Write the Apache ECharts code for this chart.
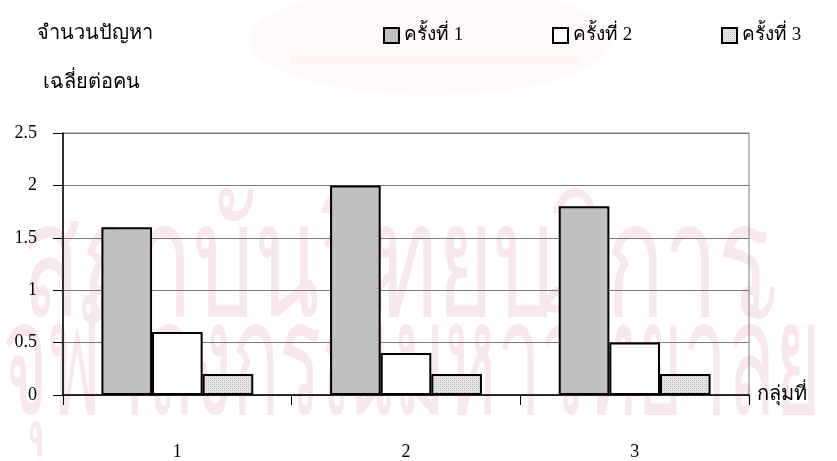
<!DOCTYPE html>
<html>
<head>
<meta charset="utf-8">
<script src="https://cdn.jsdelivr.net/npm/echarts@6/dist/echarts.min.js"></script>
<style>
  html, body { margin: 0; padding: 0; background: #ffffff; }
  #chart { width: 837px; height: 461px; }
</style>
</head>
<body>
<div id="chart"></div>
<script>
// Average number of problems per person, by group and round
const groups = ['1', '2', '3'];
const seriesNames = ['ครั้งที่ 1', 'ครั้งที่ 2', 'ครั้งที่ 3'];
const round1 = [1.6, 2.0, 1.8];
const round2 = [0.6, 0.4, 0.5];
const round3 = [0.2, 0.2, 0.2];
const yTicks = [0, 0.5, 1, 1.5, 2, 2.5];
const yTitleLines = ['จำนวนปัญหา', 'เฉลี่ยต่อคน'];
const xTitle = 'กลุ่มที่';
const watermarkLines = ['สถาบันวิทยบริการ', 'จุฬาลงกรณ์มหาวิทยาลัย'];

const FONT = '"Liberation Serif", "Times New Roman", serif';

// fine dotted fill for the third round
function dotPattern() {
  const c = document.createElement('canvas');
  c.width = 4; c.height = 4;
  const g = c.getContext('2d');
  g.fillStyle = '#e6e6e6';
  g.fillRect(0, 0, 4, 4);
  g.fillStyle = '#b4b4b4';
  g.fillRect(0, 0, 1, 1);
  g.fillRect(2, 2, 1, 1);
  g.fillStyle = '#cfcfcf';
  g.fillRect(2, 0, 1, 1);
  g.fillRect(0, 2, 1, 1);
  return c;
}

const fills = ['#c0c0c0', '#ffffff', { image: dotPattern(), repeat: 'repeat' }];
const values = [round1, round2, round3];

const chart = echarts.init(document.getElementById('chart'), null, { renderer: 'canvas' });

const legendLefts = [378, 547, 716];

const option = {
  animation: false,
  backgroundColor: '#ffffff',
  textStyle: { fontFamily: FONT },
  grid: {
    left: 63, right: 88, top: 133, bottom: 65,
    show: true, borderColor: '#808080', borderWidth: 1, backgroundColor: 'transparent'
  },
  legend: seriesNames.map((n, i) => ({
    data: [n],
    left: legendLefts[i],
    top: 21,
    icon: 'rect',
    itemWidth: 15,
    itemHeight: 15,
    itemGap: 5,
    textStyle: { fontFamily: FONT, fontSize: 19, color: '#000' }
  })),
  xAxis: {
    type: 'category',
    data: groups,
    name: xTitle,
    nameLocation: 'end',
    nameGap: 8,
    nameTextStyle: { fontFamily: FONT, fontSize: 20, color: '#000', verticalAlign: 'middle', padding: [6, 0, 0, 0] },
    axisLine: { lineStyle: { color: '#000', width: 1.5 } },
    axisTick: { show: true, length: 10, lineStyle: { color: '#000', width: 1 } },
    axisLabel: { margin: 48, fontFamily: FONT, fontSize: 18, color: '#000' },
    splitLine: { show: false }
  },
  yAxis: {
    type: 'value',
    min: 0,
    max: yTicks[yTicks.length - 1],
    interval: yTicks[1] - yTicks[0],
    axisLine: { show: true, lineStyle: { color: '#000', width: 1.5 } },
    axisTick: { show: true, length: 10, lineStyle: { color: '#000', width: 1 } },
    axisLabel: { margin: 26, fontFamily: FONT, fontSize: 18, color: '#000' },
    splitLine: { show: true, lineStyle: { color: '#7a7a7a', width: 1 } }
  },
  graphic: [
    {
      type: 'group', z: -10, silent: true,
      children: [
        { type: 'ellipse', z: -11, shape: { cx: 430, cy: 40, rx: 180, ry: 55 },
          style: { fill: '#fefafa' } },
        { type: 'rect', z: -11, shape: { x: 290, y: 55, width: 290, height: 8 },
          style: { fill: '#fcf3f3' } },
        { type: 'text', x: 22, y: 190, scaleX: 0.6, z: -10,
          style: { text: watermarkLines[0], font: '160px "Noto Sans", sans-serif', fill: '#f8e8ed' } },
        { type: 'text', x: 2, y: 288, scaleX: 0.49, z: -10,
          style: { text: watermarkLines[1], font: '160px "Noto Sans", sans-serif', fill: '#f8e8ed' } }
      ]
    },
    { type: 'text', left: 37, top: 24,
      style: { text: yTitleLines[0], font: '20px ' + FONT, fill: '#000' } },
    { type: 'text', left: 43, top: 73,
      style: { text: yTitleLines[1], font: '20px ' + FONT, fill: '#000' } }
  ],
  series: seriesNames.map((n, i) => ({
    name: n,
    type: 'bar',
    data: values[i],
    barGap: '0%',
    barCategoryGap: '33.6%',
    itemStyle: { color: fills[i], borderColor: '#000', borderWidth: 2 }
  }))
};

chart.setOption(option);
</script>
</body>
</html>
